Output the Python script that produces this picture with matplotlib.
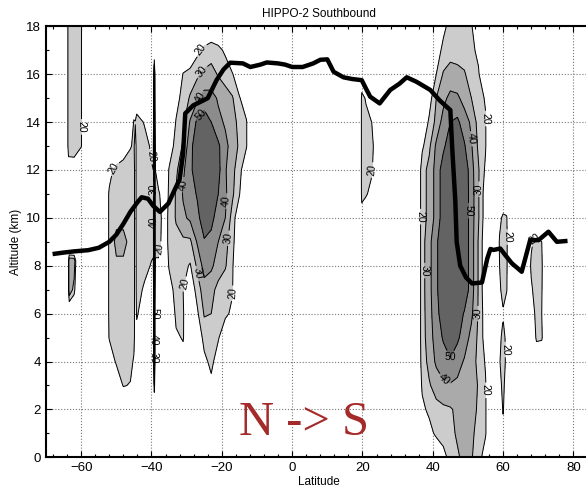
import matplotlib
matplotlib.use("Agg")
import matplotlib.pyplot as plt
import numpy as np
from matplotlib.ticker import MultipleLocator

plt.rcParams['font.family'] = ['Liberation Sans', 'DejaVu Sans']

# contour levels and grey fills
levels = [20, 30, 40, 50, 100]
line_levels = [20, 30, 40, 50]
fill_colors = ['#cccccc', '#aaaaaa', '#8c8c8c', '#636363']

# --- plume patches (rows = altitude, cols = latitude) ---
plume_a_lat = [-66, -64.2, -63.6, -62, -60, -58]
plume_a_alt = [11, 12, 13, 14, 15, 16, 17, 18, 19]
plume_a_val = [
    [0, 0, 0, 0, 0, 0],
    [0, 0, 10, 12, 0, 0],
    [0, 0, 28, 27, 21, 0],
    [0, 0, 28, 27, 21, 0],
    [0, 0, 28, 27, 21, 0],
    [0, 0, 28, 27, 21, 0],
    [0, 0, 28, 27, 21, 0],
    [0, 0, 28, 27, 21, 0],
    [0, 0, 28, 27, 21, 0],
]
plume_a_labels = [(-60, 13.8)]

plume_a2_lat = [-65, -63.8, -63.4, -62, -61]
plume_a2_alt = [6, 7, 8.2, 8.7]
plume_a2_val = [
    [0, 0, 0, 0, 0],
    [0, 0, 40, 25, 0],
    [0, 0, 40, 38, 0],
    [0, 0, 0, 0, 0],
]
plume_a2_labels = []

plume_b_lat = [-54, -52, -50, -48, -46, -45, -44.6, -44.2, -42, -40, -39.5, -39.2, -38.9, -38, -36]
plume_b_alt = [2, 3, 4, 5, 6, 7, 8, 9, 10, 11, 12, 13, 14, 15, 16, 17]
plume_b_val = [
    [0, 0, 0, 0, 0, 0, 0, 0, 0, 0, 0, 0, 0, 0, 0],
    [0, 0, 8, 21, 19, 8, 0, 0, 0, 0, 0, 28, 0, 0, 0],
    [0, 10, 22, 26, 25, 18, 5, 0, 0, 0, 0, 55, 0, 0, 0],
    [0, 21, 26, 27, 27, 25, 12, 14, 0, 0, 0, 55, 0, 0, 0],
    [0, 22, 26, 27, 27, 26, 12, 22, 10, 0, 0, 55, 0, 0, 0],
    [0, 22, 26, 27, 27, 26, 12, 25, 18, 8, 5, 55, 5, 0, 0],
    [0, 22, 28, 28, 27, 26, 12, 25, 24, 19, 18, 57, 18, 18, 5],
    [0, 22, 33, 33, 27, 26, 12, 26, 26, 24, 24, 57, 24, 24, 12],
    [0, 22, 27, 27, 27, 26, 12, 27, 27, 24, 24, 57, 24, 24, 14],
    [0, 22, 27, 27, 27, 26, 12, 27, 27, 24, 23, 57, 23, 22, 10],
    [0, 15, 25, 26, 27, 26, 12, 27, 27, 21, 20, 56, 20, 12, 0],
    [0, 0, 0, 12, 19, 22, 12, 27, 25, 18, 18, 56, 18, 5, 0],
    [0, 0, 0, 0, 0, 22, 21, 25, 19, 5, 5, 56, 5, 0, 0],
    [0, 0, 0, 0, 0, 0, 0, 10, 0, 0, 0, 55, 0, 0, 0],
    [0, 0, 0, 0, 0, 0, 0, 0, 0, 0, 0, 50, 0, 0, 0],
    [0, 0, 0, 0, 0, 0, 0, 0, 0, 0, 0, 0, 0, 0, 0],
]
plume_b_labels = [(-50.2, 12.0), (-40.4, 12.55), (-37.7, 8.7), (-39.44, 11.2),
                  (-39.35, 9.8), (-39.227, 6.0), (-39.28, 4.9), (-39.336, 4.15)]

plume_c_lat = [-37, -35, -33, -31, -29, -27, -25, -23, -21, -19, -17, -15, -13, -11]
plume_c_alt = [2, 3, 4, 5, 6, 7, 8, 9, 10, 11, 12, 13, 14, 15, 16, 17, 18]
plume_c_val = [
    [0, 0, 0, 0, 0, 0, 0, 0, 0, 0, 0, 0, 0, 0],
    [0, 0, 0, 0, 0, 0, 8, 17, 10, 0, 0, 0, 0, 0],
    [0, 0, 10, 15, 0, 5, 17, 23, 14, 5, 0, 0, 0, 0],
    [0, 0, 18, 21, 5, 10, 24, 26, 21, 12, 0, 0, 0, 0],
    [0, 5, 23, 21, 8, 18, 31, 30, 25, 22, 18, 0, 0, 0],
    [0, 15, 24, 20, 12, 24, 36, 33, 27, 24, 21, 0, 0, 0],
    [5, 21, 25, 23, 19, 32, 44, 42, 35, 31, 22, 0, 0, 0],
    [8, 23, 27, 28, 28, 41, 49, 47, 40, 33, 25, 5, 0, 0],
    [8, 23, 31, 38, 42, 47, 56, 53, 45, 40, 26, 10, 0, 0],
    [5, 22, 31, 41, 45, 51, 60, 58, 50, 42, 32, 21, 0, 0],
    [0, 21, 28, 38, 48, 55, 62, 60, 53, 41, 33, 24, 10, 0],
    [0, 12, 25, 31, 47, 56, 60, 56, 52, 42, 37, 28, 21, 0],
    [0, 5, 21, 28, 41, 52, 56, 50, 42, 39, 34, 27, 21, 0],
    [0, 0, 15, 25, 31, 38, 44, 43, 39, 34, 31, 21, 12, 0],
    [0, 0, 0, 21, 25, 28, 32, 34, 29, 26, 21, 10, 0, 0],
    [0, 0, 0, 0, 5, 17, 23, 25, 23, 18, 5, 0, 0, 0],
    [0, 0, 0, 0, 0, 0, 5, 10, 8, 0, 0, 0, 0, 0],
]
plume_c_labels = [(-26.6, 17.1), (-25.7, 16.1), (-26.6, 15.05), (-26.2, 14.35),
                  (-31.9, 11.4), (-18.1, 10.7), (-18.1, 9.15), (-26.2, 7.7),
                  (-29.5, 7.2), (-17.2, 6.85)]

plume_d_lat = [35, 37, 39, 41, 43, 45, 47, 49, 51, 53, 55, 57]
plume_d_alt = list(range(0, 20))
plume_d_val = [
    [0, 0, 0, 5, 15, 25, 29, 32, 31, 24, 15, 0],
    [0, 5, 15, 23, 26, 28, 31, 34, 33, 25, 21, 5],
    [0, 17, 23, 27, 28, 29, 32, 35, 35, 28, 21, 5],
    [0, 22, 29, 34, 38, 39, 38, 37, 36, 29, 21, 5],
    [0, 25, 33, 42, 46, 49, 44, 39, 35, 27, 19, 0],
    [0, 26, 35, 45, 51, 55, 52, 45, 37, 28, 15, 0],
    [0, 26, 36, 47, 55, 60, 56, 49, 42, 29, 14, 0],
    [0, 26, 37, 48, 58, 62, 62, 57, 45, 29, 12, 0],
    [0, 26, 37, 48, 58, 62, 62, 57, 45, 29, 12, 0],
    [0, 26, 37, 48, 58, 62, 62, 57, 45, 29, 12, 0],
    [0, 26, 33, 44, 55, 60, 60, 57, 45, 31, 14, 0],
    [0, 26, 33, 44, 55, 60, 60, 57, 45, 31, 14, 0],
    [0, 26, 33, 44, 55, 60, 60, 57, 44, 31, 18, 0],
    [0, 18, 28, 42, 48, 56, 56, 51, 41, 28, 21, 0],
    [0, 10, 22, 33, 44, 50, 52, 45, 38, 26, 21, 0],
    [0, 0, 15, 30, 37, 43, 42, 36, 30, 24, 19, 0],
    [0, 0, 5, 20, 31, 33, 32, 31, 25, 21, 10, 0],
    [0, 0, 0, 14, 23, 27, 27, 25, 22, 18, 0, 0],
    [0, 0, 0, 5, 17, 24, 25, 24, 21, 10, 0, 0],
    [0, 0, 0, 0, 12, 22, 24, 22, 15, 0, 0, 0],
]
plume_d_labels = [(55.4, 14.15), (50.8, 13.3), (53.1, 11.2), (50.2, 10.3),
                  (36.4, 10.05), (38.3, 7.8), (52.7, 6.0), (45.0, 4.06),
                  (43.0, 3.16), (53.9, 2.8)]

plume_e_lat = [19.4, 19.8, 21, 22.5, 24, 25.5]
plume_e_alt = [9, 10, 11, 12, 13, 14, 15, 16]
plume_e_val = [
    [0, 0, 0, 0, 0, 0],
    [0, 10, 5, 0, 0, 0],
    [0, 26, 22, 15, 0, 0],
    [0, 27, 26, 23, 10, 0],
    [0, 27, 27, 24, 14, 0],
    [0, 27, 26, 21, 10, 0],
    [0, 26, 18, 0, 0, 0],
    [0, 0, 0, 0, 0, 0],
]
plume_e_labels = [(22.7, 12.0)]

plume_f_lat = [58, 59, 60, 61, 62]
plume_f_alt = [0, 1, 2, 3, 4, 5, 5.6, 6.0, 6.3, 7, 8, 9, 10, 11]
plume_f_val = [
    [0, 0, 0, 0, 0],
    [0, 0, 12, 0, 0],
    [0, 5, 22, 5, 0],
    [0, 14, 25, 10, 0],
    [0, 19, 27, 16, 0],
    [0, 15, 26, 15, 0],
    [0, 5, 22, 5, 0],
    [0, 0, 0, 0, 0],
    [0, 5, 21, 10, 0],
    [0, 18, 24, 22, 0],
    [0, 20, 25, 23, 0],
    [0, 22, 25, 24, 0],
    [0, 15, 24, 22, 0],
    [0, 0, 0, 0, 0],
]
plume_f_labels = [(61.0, 9.2), (60.6, 4.5)]

plume_g_lat = [66, 68, 69.5, 71, 72.5]
plume_g_alt = [4, 5, 6, 7, 8, 9, 10]
plume_g_val = [
    [0, 0, 5, 5, 0],
    [0, 0, 23, 22, 0],
    [0, 10, 25, 20, 0],
    [0, 18, 26, 21, 0],
    [0, 22, 26, 22, 0],
    [0, 18, 24, 20, 0],
    [0, 0, 0, 0, 0],
]
plume_g_labels = [(69.0, 9.1)]

# flight track (thick black line)
track_lat = [-67.5, -65, -62, -58, -55, -52, -50, -48, -46, -44, -42.8, -41, -39.5, -37.6,
             -35.2, -33, -32, -31, -30.4, -28.1, -25.3, -24, -21.5, -19.5, -17.6, -14, -11.9,
             -9, -7.2, -4, -2, 0, 3, 6, 8, 10, 11.8, 14.6, 17, 19.8, 21, 22.2, 24.9, 27.9,
             30.5, 32.6, 35.4, 39.3, 42, 45, 45.5, 46.4, 46.8, 47.8, 49.5, 51.2, 54, 55.5,
             56.4, 57.3, 59.2, 60.6, 62.5, 65.3, 67.7, 70.1, 72.9, 75.3, 77.7]
track_alt = [8.5, 8.55, 8.6, 8.65, 8.75, 9.0, 9.3, 9.75, 10.25, 10.65, 10.86, 10.8, 10.5, 10.25,
             10.6, 11.3, 11.6, 12.7, 14.36, 14.7, 14.9, 15.0, 15.75, 16.2, 16.48, 16.45, 16.3,
             16.4, 16.49, 16.45, 16.4, 16.3, 16.3, 16.45, 16.6, 16.62, 16.1, 15.87, 15.8, 15.75,
             15.4, 15.06, 14.78, 15.34, 15.6, 15.87, 15.68, 15.34, 14.9, 14.5, 13.0, 10.74, 9.0,
             8.0, 7.5, 7.26, 7.3, 8.3, 8.7, 8.66, 8.72, 8.45, 8.1, 7.75, 9.07, 9.07, 9.42,
             9.0, 9.03]

plumes = [
    (plume_a_lat, plume_a_alt, plume_a_val, plume_a_labels),
    (plume_a2_lat, plume_a2_alt, plume_a2_val, plume_a2_labels),
    (plume_b_lat, plume_b_alt, plume_b_val, plume_b_labels),
    (plume_c_lat, plume_c_alt, plume_c_val, plume_c_labels),
    (plume_d_lat, plume_d_alt, plume_d_val, plume_d_labels),
    (plume_e_lat, plume_e_alt, plume_e_val, plume_e_labels),
    (plume_f_lat, plume_f_alt, plume_f_val, plume_f_labels),
    (plume_g_lat, plume_g_alt, plume_g_val, plume_g_labels),
]

fig = plt.figure(figsize=(5.86, 4.96), dpi=100)
ax = fig.add_axes([0.0785, 0.078, 0.930, 0.869])
ax.set_axisbelow(True)
ax.set_xlim(-70, 85)
ax.set_ylim(0, 18)

for lat, alt, val, label_pos in plumes:
    z = np.array(val, dtype=float)
    ax.contourf(lat, alt, z, levels=levels, colors=fill_colors)
    cs = ax.contour(lat, alt, z, levels=line_levels, colors='black', linewidths=0.7)
    if label_pos:
        ax.clabel(cs, fmt='%d', fontsize=7.5, inline=True, inline_spacing=2, manual=label_pos)

ax.plot(track_lat, track_alt, color='black', linewidth=3.2, solid_joinstyle='round')

ax.text(3.5, 0.95, 'N -> S', family=['Liberation Serif', 'DejaVu Serif'],
        fontsize=35, color='#a52a2a', ha='center', va='baseline')

ax.set_xticks(range(-60, 81, 20))
ax.set_yticks(range(0, 19, 2))
ax.xaxis.set_minor_locator(MultipleLocator(4))
ax.yaxis.set_minor_locator(MultipleLocator(1))
ax.tick_params(which='both', direction='in', top=True, right=False, labelsize=9.5)
ax.tick_params(which='major', length=4, width=0.8)
ax.tick_params(which='minor', length=2.5, width=0.8)
ax.grid(True, which='major', linestyle=':', color='#777777', linewidth=0.8)
for side in ['left', 'bottom', 'top']:
    ax.spines[side].set_linewidth(1.5)
ax.spines['right'].set_visible(False)

ax.set_title('HIPPO-2 Southbound', fontsize=8.5, pad=7)
ax.set_xlabel('Latitude', fontsize=8.5, labelpad=1)
ax.set_ylabel('Altitude (km)', fontsize=8.5, labelpad=3)

fig.savefig('out.png', dpi=100)
